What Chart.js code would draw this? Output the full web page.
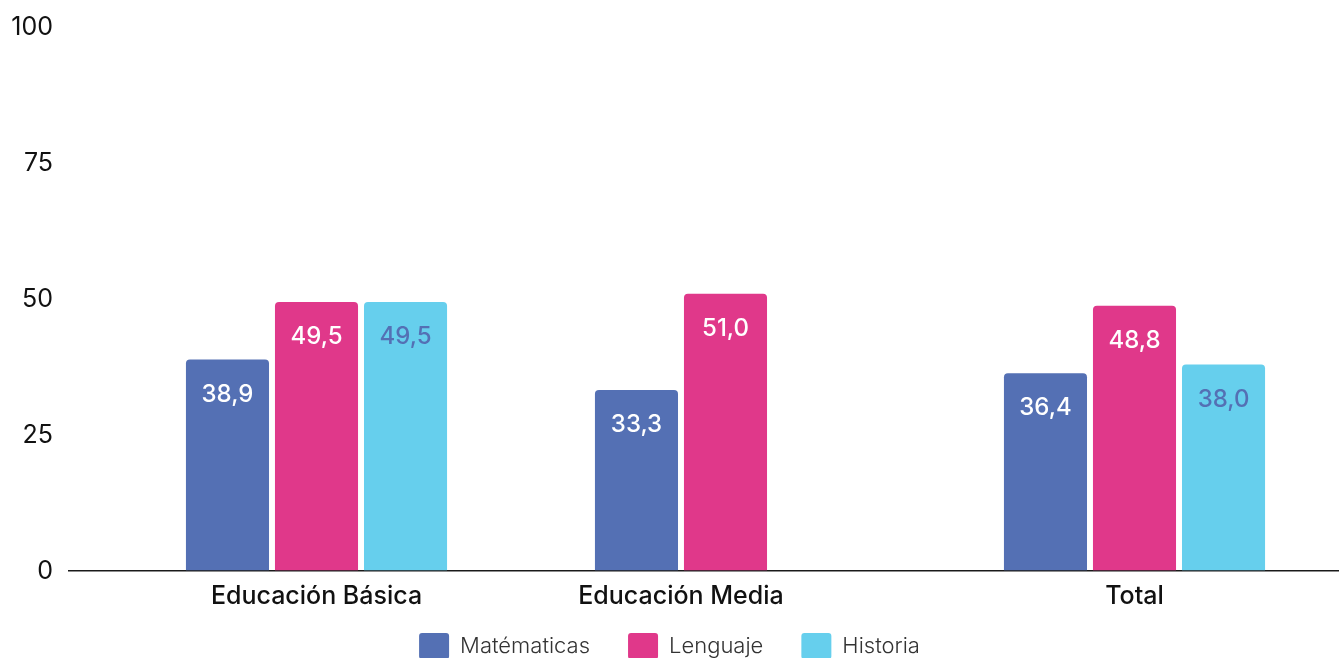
<!DOCTYPE html>
<html lang="es">
<head>
<meta charset="utf-8">
<script src="https://cdn.jsdelivr.net/npm/chart.js@4.4.1/dist/chart.umd.min.js"></script>
<style>
  html, body { margin: 0; padding: 0; background: #fff; }
  canvas { display: block; }
</style>
</head>
<body>
<canvas id="graficoAsignaturas" width="1339" height="658"></canvas>
<script>
// datos por nivel educativo
const categorias = ['Educación Básica', 'Educación Media', 'Total'];
const series = ['Matématicas', 'Lenguaje', 'Historia'];
const matematicas = [38.9, 33.3, 36.4];
const lenguaje = [49.5, 51.0, 48.8];
const historia = [49.5, null, 38.0];
const ticksY = [0, 25, 50, 75, 100];

const colores = ['#5470b4', '#e0388a', '#66cfed'];
const coloresTexto = ['#ffffff', '#ffffff', '#5470b4'];
const FUENTE = 'Inter, "Noto Sans", sans-serif';

// numeros dentro de cada barra, formato con coma
const etiquetasValor = {
  id: 'etiquetasValor',
  afterDatasetsDraw(chart) {
    const ctx = chart.ctx;
    ctx.save();
    ctx.font = '500 24px ' + FUENTE;
    ctx.textAlign = 'center';
    ctx.textBaseline = 'middle';
    chart.data.datasets.forEach((ds, i) => {
      chart.getDatasetMeta(i).data.forEach((barra, j) => {
        const v = ds.data[j];
        if (v === null) return;
        ctx.fillStyle = coloresTexto[i];
        ctx.fillText(v.toFixed(1).replace('.', ','), barra.x, barra.y + 35);
      });
    });
    ctx.restore();
  }
};

// nombre de la categoria centrado bajo las barras que tienen dato
const etiquetasCategoria = {
  id: 'etiquetasCategoria',
  afterDraw(chart) {
    const ctx = chart.ctx;
    const ejeX = chart.scales.x;
    ctx.save();
    ctx.font = '500 25px ' + FUENTE;
    ctx.fillStyle = '#111';
    ctx.textAlign = 'center';
    ctx.textBaseline = 'middle';
    categorias.forEach((cat, j) => {
      const xs = [];
      chart.data.datasets.forEach((ds, i) => {
        if (ds.data[j] !== null) xs.push(chart.getDatasetMeta(i).data[j].x);
      });
      const cx = xs.reduce((a, b) => a + b, 0) / xs.length;
      ctx.fillText(cat, cx, ejeX.top + 25);
    });
    ctx.restore();
  }
};

const ctx = document.getElementById('graficoAsignaturas').getContext('2d');
const chart = new Chart(ctx, {
  type: 'bar',
  data: {
    labels: categorias,
    datasets: [
      { label: series[0], data: matematicas, backgroundColor: colores[0] },
      { label: series[1], data: lenguaje, backgroundColor: colores[1] },
      { label: series[2], data: historia, backgroundColor: colores[2] }
    ]
  },
  options: {
    responsive: false,
    animation: false,
    layout: { padding: { top: 18, left: 0, right: 0, bottom: 0 } },
    datasets: {
      bar: {
        categoryPercentage: 0.653,
        barPercentage: 0.933,
        borderRadius: 4,
        borderSkipped: 'start'
      }
    },
    scales: {
      x: {
        grid: { display: false, drawTicks: false },
        border: { display: false },
        ticks: { display: false },
        afterFit: (scale) => { scale.height = 24; }
      },
      y: {
        min: 0,
        max: 100,
        afterBuildTicks: (scale) => { scale.ticks = ticksY.map(v => ({ value: v })); },
        afterFit: (scale) => { scale.width = 112; },
        border: { display: false },
        grid: {
          color: (c) => c.tick && c.tick.value === 0 ? '#1a1a1a' : 'rgba(0,0,0,0)',
          lineWidth: 1.5,
          tickLength: 44
        },
        ticks: {
          padding: 15,
          color: '#111',
          font: { family: FUENTE, size: 25, weight: '400', lineHeight: 1 }
        }
      }
    },
    plugins: {
      legend: {
        position: 'bottom',
        maxHeight: 63,
        labels: {
          boxWidth: 30,
          boxHeight: 26,
          padding: 38,
          color: '#333',
          useBorderRadius: true,
          borderRadius: 3,
          font: { family: FUENTE, size: 22, weight: '300' }
        }
      },
      tooltip: { enabled: false }
    }
  },
  plugins: [etiquetasValor, etiquetasCategoria]
});
</script>
</body>
</html>
